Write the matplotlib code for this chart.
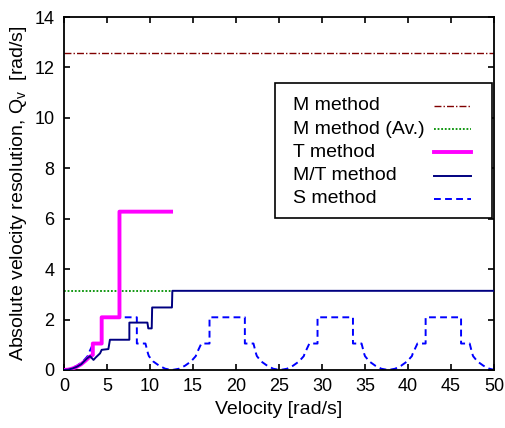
import matplotlib
matplotlib.use("Agg")
import matplotlib.pyplot as plt
from matplotlib.lines import Line2D
from matplotlib.patches import Rectangle

plt.rcParams['font.family'] = ['Liberation Sans', 'DejaVu Sans']
plt.rcParams['mathtext.fontset'] = 'custom'
plt.rcParams['mathtext.rm'] = 'Liberation Sans'
plt.rcParams['mathtext.it'] = 'Liberation Sans:italic'

# ---- data ----
m_x = [0, 50]
m_y = [12.57, 12.57]

mav_x = [0, 12.45]
mav_y = [3.14, 3.14]

t_x = [0, 0.5, 1.0, 1.5, 2.0, 2.5, 3.0, 3.35, 3.35, 4.38, 4.38, 6.45, 6.45, 12.45]
t_y = [0, 0.015, 0.06, 0.13, 0.23, 0.37, 0.53, 0.6, 1.05, 1.05, 2.09, 2.09, 6.28, 6.28]

mt_x = [0, 0.5, 1.0, 1.5, 2.0, 2.65, 3.03, 3.43, 3.7, 4.19, 4.38, 5.16, 5.34,
        7.6, 7.6, 9.7, 9.8, 10.2, 10.25, 12.55, 12.6, 50]
mt_y = [0, 0.015, 0.06, 0.13, 0.23, 0.45, 0.55, 0.4, 0.5, 0.66, 0.8, 0.83, 1.2,
        1.2, 1.88, 1.88, 1.65, 1.65, 2.48, 2.48, 3.14, 3.14]

s_x = [0, 0.8, 1.5, 2.2, 2.75, 2.85, 3.4, 4.35, 4.35,
       8.47, 8.47, 9.47, 9.77, 9.87, 10.37, 11.07, 11.77, 12.57,
       13.37, 14.07, 14.77, 15.32, 15.42, 15.97, 16.92, 16.92,
       21.03, 21.03, 22.03, 22.33, 22.43, 22.93, 23.63, 24.33, 25.13,
       25.93, 26.63, 27.33, 27.88, 27.98, 28.53, 29.48, 29.48,
       33.60, 33.60, 34.60, 34.90, 35.00, 35.50, 36.20, 36.90, 37.70,
       38.50, 39.20, 39.90, 40.45, 40.55, 41.10, 42.05, 42.05,
       46.17, 46.17, 47.17, 47.47, 47.57, 48.07, 48.77, 49.47, 50.0]
s_y = [0, 0.05, 0.17, 0.34, 0.55, 0.65, 1.05, 1.05, 2.09,
       2.09, 1.05, 1.05, 0.65, 0.55, 0.34, 0.17, 0.05, 0,
       0.05, 0.17, 0.34, 0.55, 0.65, 1.05, 1.05, 2.09,
       2.09, 1.05, 1.05, 0.65, 0.55, 0.34, 0.17, 0.05, 0,
       0.05, 0.17, 0.34, 0.55, 0.65, 1.05, 1.05, 2.09,
       2.09, 1.05, 1.05, 0.65, 0.55, 0.34, 0.17, 0.05, 0,
       0.05, 0.17, 0.34, 0.55, 0.65, 1.05, 1.05, 2.09,
       2.09, 1.05, 1.05, 0.65, 0.55, 0.34, 0.17, 0.05, 0.01]

labels = ["M method", "M method (Av.)", "T method", "M/T method", "S method"]
xticks = [0, 5, 10, 15, 20, 25, 30, 35, 40, 45, 50]
yticks = [0, 2, 4, 6, 8, 10, 12, 14]

# ---- styles ----
styles = [
    dict(color='#800000', lw=1.0, dashes=(5, 1.5, 1, 1.5)),
    dict(color='#009000', lw=1.3, dashes=(1, 1)),
    dict(color='#ff00ff', lw=2.8, linestyle='-'),
    dict(color='#000080', lw=1.4, linestyle='-'),
    dict(color='#0000ff', lw=1.4, dashes=(3.5, 2.2)),
]

FS = 14
TFS = 13
AX_L, AX_R, AX_T, AX_B = 64, 494, 17, 370

fig = plt.figure(figsize=(5.06, 4.28), dpi=100)
ax = fig.add_axes([AX_L / 506, 1 - AX_B / 428, (AX_R - AX_L) / 506, (AX_B - AX_T) / 428])

ax.plot(m_x, m_y, zorder=2, **styles[0])
ax.plot(mav_x, mav_y, zorder=2, **styles[1])
ax.plot(s_x, s_y, zorder=2.5, **styles[4])
ax.plot(t_x, t_y, zorder=3, **styles[2])
ax.plot(mt_x, mt_y, zorder=4, **styles[3])

ax.set_xlim(0, 50)
ax.set_ylim(0, 14)
ax.set_xticks(xticks)
ax.set_yticks(yticks)
ax.tick_params(direction='in', length=4, width=1.2, labelsize=TFS,
               top=True, right=True)
ax.tick_params(axis='x', pad=6)
ax.tick_params(axis='y', pad=7)
for sp in ax.spines.values():
    sp.set_linewidth(1.3)

ax.set_xlabel("Velocity [rad/s]", fontsize=FS, labelpad=4)
ax.set_ylabel("Absolute velocity resolution, Q$_\\mathrm{v}$  [rad/s]",
              fontsize=FS, labelpad=4)

# ---- manual legend (text left, sample line right) ----
def ax_xy(px, py):
    return ((px - AX_L) / (AX_R - AX_L), (AX_B - py) / (AX_B - AX_T))

x0, y0 = ax_xy(275, 218)
x1, y1 = ax_xy(492, 83)
ax.add_patch(Rectangle((x0, y0), x1 - x0, y1 - y0, transform=ax.transAxes,
                       facecolor='white', edgecolor='black', lw=1.2, zorder=5))
rows_py = [105.5, 129, 152.3, 176, 198.5]
for lab, st, py in zip(labels, styles, rows_py):
    tx, ty = ax_xy(293, py)
    ax.text(tx, ty, lab, transform=ax.transAxes, fontsize=FS,
            ha='left', va='center', zorder=6)
    lx0, ly = ax_xy(434, py)
    lx1, _ = ax_xy(471, py)
    ax.add_line(Line2D([lx0, lx1], [ly, ly], transform=ax.transAxes,
                       zorder=6, **st))

fig.savefig("out.png", dpi=100)
